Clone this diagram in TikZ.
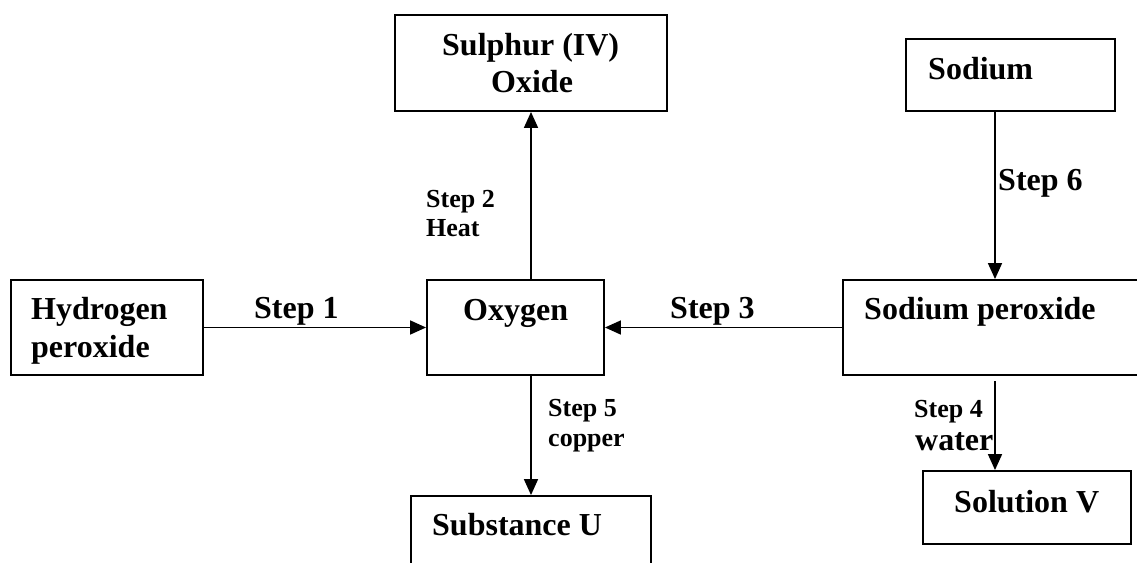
\documentclass[tikz,border=0pt]{standalone}
\usepackage{fontspec}
\setmainfont{Liberation Serif}
\usetikzlibrary{arrows.meta}

\begin{document}
\begin{tikzpicture}[x=1pt,y=-1pt,
  box/.style={draw,line width=1.9pt,inner sep=0pt},
  big/.style={inner sep=0pt,anchor=base west,font=\fontsize{32}{38}\selectfont\bfseries},
  small/.style={inner sep=0pt,anchor=base west,font=\fontsize{26}{30}\selectfont\bfseries},
  arr/.style={-{Triangle[length=16pt,width=14pt]},line width=1.7pt}]
\clip (0,0) rectangle (1137,562);
% boxes
\node[box,minimum width=192pt,minimum height=95pt] (hp) at (107,327.5) {};
\node[box,minimum width=177pt,minimum height=95pt] (oxy) at (515.5,327.5) {};
\node[box,minimum width=272pt,minimum height=96pt] (sul) at (531,63) {};
\node[box,minimum width=240pt,minimum height=94pt] (subu) at (531,543) {};
\node[box,minimum width=209pt,minimum height=72pt] (sod) at (1010.5,75) {};
\node[box,minimum width=307pt,minimum height=95pt] (nap) at (996.5,327.5) {};
\node[box,minimum width=208pt,minimum height=73pt] (sol) at (1027,507.5) {};
% box texts
\node[big] (hpa) at (31,319) {Hydrogen};
\node[big] (hpb) at (31,357) {peroxide};
\node[big] (oxyt) at (463,320) {Oxygen};
\node[big] (sula) at (442,55.5) {Sulphur (IV)};
\node[big] (sulb) at (491,92.5) {Oxide};
\node[big] (subut) at (432,535) {Substance U};
\node[big] (sodt) at (928,79.5) {Sodium};
\node[big] (napt) at (864,319) {Sodium peroxide};
\node[big] (solt) at (954,512) {Solution V};
% step labels
\node[big] (s1) at (254,318) {Step 1};
\node[small] (s2a) at (426,207) {Step 2};
\node[small] (s2b) at (426,236.5) {Heat};
\node[big] (s3) at (670,318) {Step 3};
\node[small] (s4a) at (914,417) {Step 4};
\node[big] (s4b) at (915,450) {water};
\node[small] (s5a) at (548,416) {Step 5};
\node[small] (s5b) at (548,446) {copper};
\node[big] (s6) at (998,190) {Step 6};
% arrows
\coordinate (na) at (995,111);
\coordinate (nb) at (995,381);
\draw[arr] (hp.east) -- (oxy.west);
\draw[arr] (sul.south |- oxy.north) -- (sul.south);
\draw[arr] (nap.west) -- (oxy.east);
\draw[arr] (subu.north |- oxy.south) -- (subu.north);
\draw[arr] (na) -- (na |- nap.north);
\draw[arr] (nb) -- (nb |- sol.north);
\end{tikzpicture}
\end{document}
